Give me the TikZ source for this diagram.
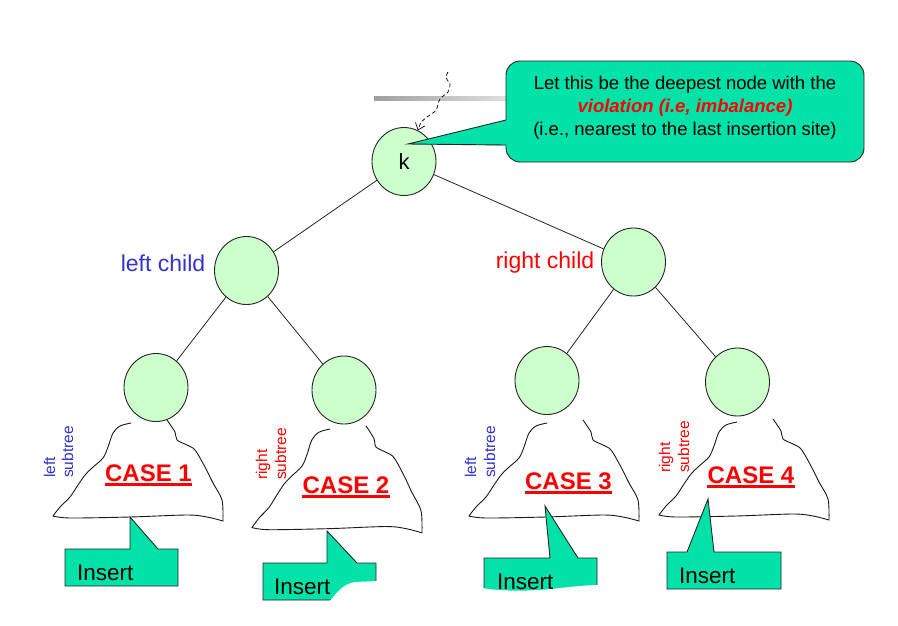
\documentclass[tikz,border=0pt]{standalone}
\usepackage{fontspec}
\setmainfont{Liberation Sans}
\usetikzlibrary{arrows.meta,shapes.geometric}
\definecolor{nodegreen}{RGB}{204,255,204}
\definecolor{calloutgreen}{RGB}{0,226,168}
\definecolor{labelblue}{RGB}{51,51,204}
\definecolor{labelred}{RGB}{255,0,0}
\newcommand\setfs[2]{\fontsize{#1}{#2}\selectfont}
\newcommand\subtreeoutline{%
  \draw[treeline] plot[smooth,tension=0.5] coordinates {(0,0) (-11,3) (-18,10) (-23,24) (-28,35) (-39,45) (-46,52) (-53,62) (-61,74) (-71,84) (-78,93)}
   --plot[smooth,tension=0.5] coordinates {(-78,93) (-61,95) (-1,94) (56,92) (76,94) (92,98)}
   --plot[smooth,tension=0.5] coordinates {(92,98) (91,77) (82,60) (74,44) (64,27) (56,22) (46,17) (44,9) (36,-3)};}
\tikzset{
  treenode/.style={ellipse, draw=black!85, fill=nodegreen, line width=0.9pt,
    minimum width=64pt, minimum height=68pt, inner sep=0pt, font=\setfs{22}{24}},
  treeedge/.style={line width=0.8pt, draw=black!85},
  treeline/.style={line width=0.9pt, draw=black!90},
  childlabel/.style={anchor=base, inner sep=0pt, font=\setfs{23}{26}},
  sublabel/.style={rotate=90, anchor=base west, inner sep=0pt, font=\setfs{15.5}{18}},
  caselabel/.style={anchor=base, inner sep=0pt, text=labelred, font=\bfseries\setfs{24}{26}},
  caseline/.style={draw=labelred, line width=2.5pt},
  insertbox/.style={fill=calloutgreen, draw=black!85, line width=0.9pt},
  inserttext/.style={anchor=base west, inner sep=0pt, font=\setfs{22.5}{24}},
  callouttext/.style={anchor=base, inner sep=0pt, font=\setfs{18.5}{22}},
}
\begin{document}
\begin{tikzpicture}[x=1pt,y=-1pt]
\useasboundingbox[fill=white] (0,0) rectangle (898,625);

% gray bar behind the callout
\shade[left color=gray!75, right color=gray!25] (374,96) rectangle (506,100);

% tree nodes
\node[treenode] (k)  at (404,161.5) {k};
\node[treenode] (lc) at (246.5,270.5) {};
\node[treenode] (rc) at (633.5,262) {};
\node[treenode] (ll) at (156,387.5) {};
\node[treenode] (lr) at (344,390) {};
\node[treenode] (rl) at (547,380.5) {};
\node[treenode] (rr) at (737.5,382) {};

\draw[treeedge] (k) -- (lc);
\draw[treeedge] (k) -- (rc);
\draw[treeedge] (lc) -- (ll);
\draw[treeedge] (lc) -- (lr);
\draw[treeedge] (rc) -- (rl);
\draw[treeedge] (rc) -- (rr);

% dashed squiggly arrow into k
\coordinate (sq) at (448,72);
\draw[line width=0.7pt, dash pattern=on 4pt off 2.5pt, -{Straight Barb[length=6pt,width=10pt]}]
  plot[smooth,tension=0.6] coordinates {(sq) (446,78) (450,84) (448,92) (440,99) (436,110) (427,117) (421,122)} -- (k.66);

% callout
\filldraw[fill=calloutgreen, draw=black!85, line width=0.9pt, rounded corners=14pt] (506,61) rectangle (864,162);
\fill[calloutgreen] (408,144) -- (507.6,119.6) -- (507.6,145.4) -- cycle;
\draw[line width=0.9pt, draw=black!85] (506,120) -- (408,144) -- (506,145);
\node[callouttext] (cl1) at (685,89) {Let this be the deepest node with the};
\node[callouttext, text=labelred] (cl2) at (685,112) {\bfseries\itshape violation (i.e, imbalance)};
\node[callouttext] (cl3) at (685,135) {(i.e., nearest to the last insertion site)};

% child labels
\node[childlabel, text=labelblue] (lclab) at (163,271.5) {left child};
\node[childlabel, text=labelred] (rclab) at (545,268.5) {right child};

% subtrees
\begin{scope}[shift={(131,423)}]\subtreeoutline\end{scope}
\begin{scope}[shift={(330,429)}, yscale=1.06]\subtreeoutline\end{scope}
\begin{scope}[shift={(547,423)}]\subtreeoutline\end{scope}
\begin{scope}[shift={(737,422)}]\subtreeoutline\end{scope}

% rotated subtree labels
\node[sublabel, text=labelblue] (s1a) at (55,478) {left};
\node[sublabel, text=labelblue] (s1b) at (73,478) {subtree};
\node[sublabel, text=labelred] (s2a) at (267,480) {right};
\node[sublabel, text=labelred] (s2b) at (286,480) {subtree};
\node[sublabel, text=labelblue] (s3a) at (476,478) {left};
\node[sublabel, text=labelblue] (s3b) at (495,478) {subtree};
\node[sublabel, text=labelred] (s4a) at (670,473) {right};
\node[sublabel, text=labelred] (s4b) at (689,473) {subtree};

% case labels
\node[caselabel] (c1) at (148.5,481) {CASE 1};
\node[caselabel] (c2) at (346,493) {CASE 2};
\node[caselabel] (c3) at (568.5,489) {CASE 3};
\node[caselabel] (c4) at (751,483) {CASE 4};
\foreach \c in {c1,c2,c3,c4}
  \draw[caseline] ([yshift=-3.5pt]\c.base west) -- ([yshift=-3.5pt]\c.base east);

% insert callouts
\filldraw[insertbox] (65,549) -- (130,549) -- (130,517) -- (158,549) -- (178,549) -- (178,586) -- (65,586) -- cycle;
\node[inserttext] (i1) at (77,580) {Insert};

\filldraw[insertbox] (263,563) -- (327,563) -- (327,531) -- (357,563) -- (376,563) -- (376,600) -- (263,600) -- cycle;
\node[inserttext] (i2) at (274,594) {Insert};
\fill[white] (329,602) .. controls (336,594) and (342,584) .. (355,582) -- (378,581) -- (378,603) -- cycle;

\filldraw[insertbox] (484,558) -- (550,558) -- (545,506) -- (578,558) -- (597,558) -- (597,594) -- (484,594) -- cycle;
\node[inserttext] (i3) at (497,589) {Insert};
\fill[white] (482,588) .. controls (505,592) and (535,591) .. (560,588) .. controls (578,586) and (590,585) .. (599,585) -- (599,600) -- (482,600) -- cycle;

\filldraw[insertbox] (667,552) -- (687,552) -- (708,499) -- (714,552) -- (781,552) -- (781,589) -- (667,589) -- cycle;
\node[inserttext] (i4) at (679,583) {Insert};
\end{tikzpicture}
\end{document}
